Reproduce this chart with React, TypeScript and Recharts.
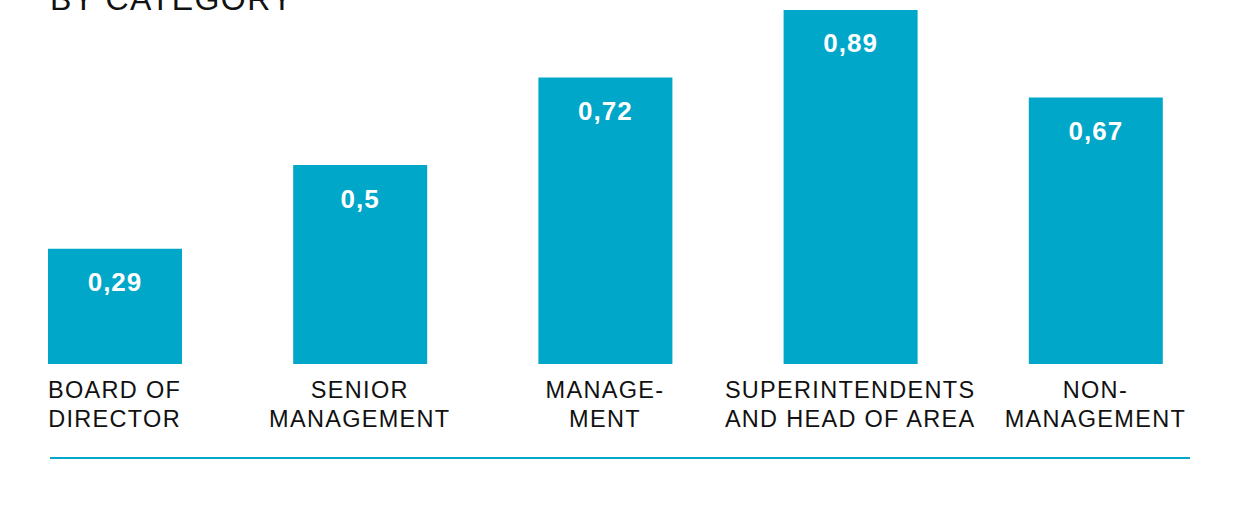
import React from "react";
import { BarChart, Bar, XAxis, YAxis, LabelList } from "recharts";

const categories = ["BOARD OF|DIRECTOR", "SENIOR|MANAGEMENT", "MANAGE-|MENT", "SUPERINTENDENTS|AND HEAD OF AREA", "NON-|MANAGEMENT"];
const values = [0.29, 0.5, 0.72, 0.89, 0.67];
const valueLabels = ["0,29", "0,5", "0,72", "0,89", "0,67"];

const data = categories.map((c, i) => ({ name: c, value: values[i], label: valueLabels[i] }));

const FONT = "'Liberation Sans', Arial, sans-serif";
const COLOR = "#00A7C9";

const Tick = (props: any) => {
  const { x, y, payload } = props;
  const lines = String(payload.value).split("|");
  return (
    <g>
      {lines.map((l, i) => (
        <text key={i} x={x} y={y + 26 + i * 29} textAnchor="middle" fill="#111" fontFamily={FONT} fontSize={23.5} letterSpacing={1.3}>
          {l}
        </text>
      ))}
    </g>
  );
};

export default function App() {
  return (
    <div style={{ position: "absolute", left: 0, top: 0, width: 1241, height: 519, overflow: "hidden", background: "#fff" }}>
      <div style={{ position: "absolute", left: 50, top: -17, fontFamily: FONT, fontSize: 32, lineHeight: 1, letterSpacing: 1.5, color: "#111", whiteSpace: "nowrap" }}>
        BY CATEGORY
      </div>
      <div style={{ position: "absolute", left: -8, top: 0 }}>
        <BarChart width={1241} height={519} data={data} margin={{ top: 10, right: 15, left: 0, bottom: 0 }}>
          <XAxis dataKey="name" axisLine={false} tickLine={false} interval={0} tick={<Tick />} height={155} />
          <YAxis hide domain={[0, 0.89]} />
          <Bar dataKey="value" fill={COLOR} barSize={134} isAnimationActive={false}>
            <LabelList dataKey="label" position="insideTop" offset={24} fill="#fff" fontFamily={FONT} fontSize={26} fontWeight="bold" letterSpacing={1} />
          </Bar>
        </BarChart>
      </div>
      <div style={{ position: "absolute", left: 50, top: 457, width: 1140, height: 2, background: COLOR }} />
    </div>
  );
}
